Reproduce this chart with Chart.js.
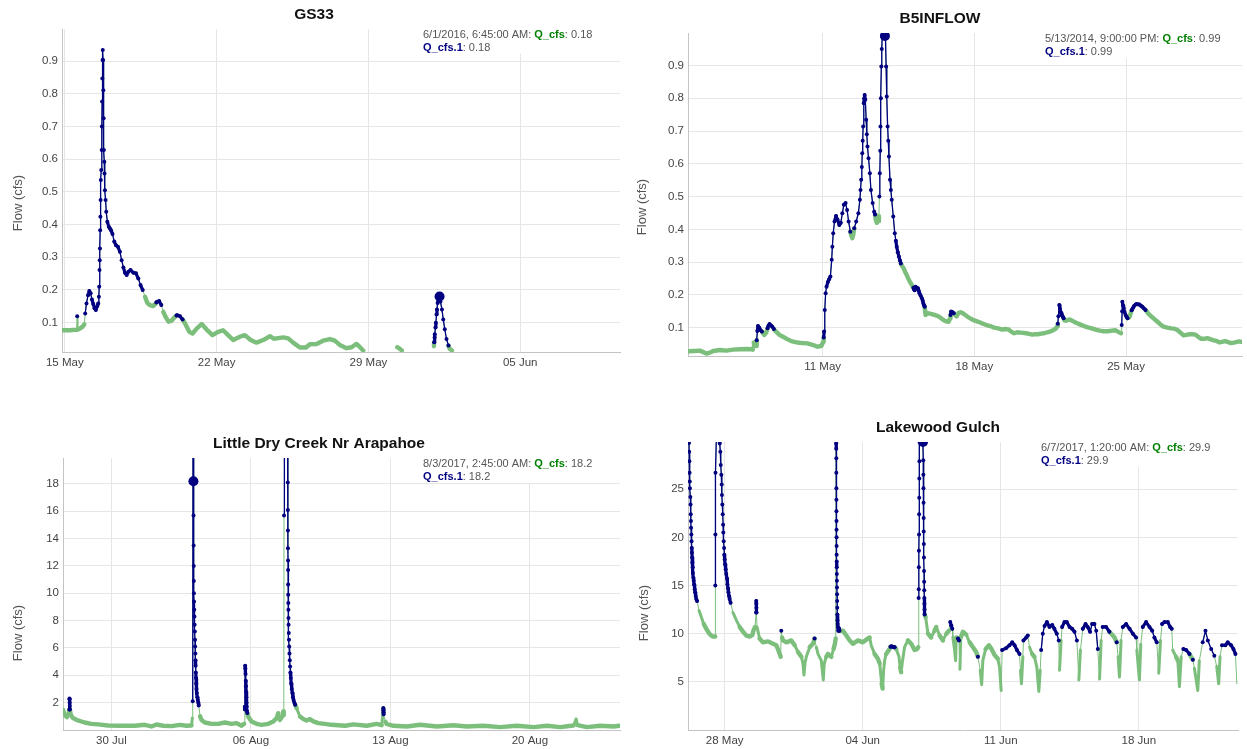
<!DOCTYPE html>
<html>
<head>
<meta charset="utf-8">
<title>Flow (cfs) – four gauges</title>
<script src="https://cdn.jsdelivr.net/npm/chart.js@4.4.1/dist/chart.umd.min.js"></script>
<style>
  html, body { margin: 0; padding: 0; background: #fff; }
  #wrap { position: relative; width: 1247px; height: 749px; overflow: hidden; background: #fff; }
  .panel { position: absolute; }
  .panel canvas { display: block; }
</style>
</head>
<body>
<div id="wrap">
  <div class="panel" style="left:0;top:0;width:625px;height:375px"><canvas id="gs33" width="625" height="375"></canvas></div>
  <div class="panel" style="left:625px;top:0;width:622px;height:375px"><canvas id="b5" width="622" height="375"></canvas></div>
  <div class="panel" style="left:0;top:375px;width:625px;height:374px"><canvas id="ldc" width="625" height="374"></canvas></div>
  <div class="panel" style="left:625px;top:375px;width:622px;height:374px"><canvas id="lg" width="622" height="374"></canvas></div>
</div>
<script>
// ---------------------------------------------------------------------------
// Data. x = day counted from the start of the first month shown
// (e.g. 15.5 = 15 May 12:00, 32 = 1 Jun). Flow in cfs.
// *Flow   : Q_cfs, the full record
// *Event  : Q_cfs.1, the flagged event portions (null breaks a run)
// ---------------------------------------------------------------------------

// GS33 (May–Jun 2016)
const gs33Flow = [
  [14.85,0.077],[15.05,0.077],[15.24,0.077],[15.40,0.078],[15.54,0.078],[15.60,0.079],[15.70,0.082],[15.82,0.088],[15.90,0.095],
  [18.70,0.179],[18.80,0.161],[18.92,0.154],[19.08,0.151],[19.20,0.159],
  [19.54,0.133],[19.66,0.116],[19.78,0.103],[19.92,0.106],[20.08,0.118],
  [20.58,0.093],[20.74,0.072],[20.89,0.067],[21.08,0.082],[21.31,0.096],[21.54,0.079],[21.81,0.062],[22.07,0.072],[22.30,0.077],
  [22.53,0.062],[22.77,0.047],[23.07,0.057],[23.30,0.062],[23.57,0.047],[23.84,0.039],[24.15,0.047],[24.46,0.059],[24.64,0.051],
  [24.84,0.053],[25.07,0.055],[25.30,0.052],[25.53,0.039],[25.84,0.024],[26.12,0.024],[26.30,0.034],[26.61,0.035],[26.91,0.045],
  [27.22,0.050],[27.45,0.045],[27.68,0.032],[27.99,0.022],[28.22,0.025],[28.45,0.035],[28.61,0.025],[28.76,0.015],
  [29.50,null],
  [30.33,0.025],[30.45,0.020],[30.54,0.015],
  [31.30,null],
  [32.02,0.028],[32.75,0.020],[32.85,0.015]
];
const gs33Event = [
  [15.57,0.12],[15.75,null],
  [15.94,0.128],[16.00,0.159],[16.07,0.184],[16.13,0.197],[16.19,0.190],[16.25,0.171],[16.31,0.157],[16.37,0.144],[16.43,0.139],
  [16.50,0.151],[16.54,0.159],[16.57,0.179],[16.585,0.21],[16.60,0.261],[16.61,0.291],[16.62,0.327],[16.63,0.383],[16.64,0.424],
  [16.65,0.475],[16.66,0.536],[16.68,0.567],[16.70,0.628],[16.71,0.700],[16.72,0.776],[16.73,0.847],[16.74,0.903],[16.75,0.934],
  [16.765,0.903],[16.775,0.811],[16.79,0.725],[16.80,0.628],[16.82,0.592],[16.83,0.556],[16.85,0.505],[16.88,0.475],[16.91,0.439],
  [16.96,0.409],[17.03,0.393],[17.08,0.388],[17.13,0.383],[17.20,0.371],[17.28,0.348],[17.36,0.337],[17.45,0.332],[17.54,0.317],
  [17.62,0.291],[17.70,0.269],[17.77,0.253],[17.85,0.246],[17.93,0.256],[18.03,0.261],[18.16,0.253],[18.28,0.251],[18.39,0.235],
  [18.49,0.215],[18.59,0.200],[18.90,null],
  [19.22,0.162],[19.26,0.164],[19.35,0.166],[19.45,0.154],[19.80,null],
  [20.15,0.122],[20.19,0.123],[20.31,0.120],[20.43,0.110],[25.00,null],
  [32.03,0.040],[32.05,0.055],[32.06,0.065],[32.09,0.085],[32.11,0.100],[32.14,0.125],[32.16,0.140],[32.19,0.160],[32.22,0.175],
  [32.25,0.185],[32.28,0.180],[32.32,0.165],[32.39,0.140],[32.45,0.110],[32.52,0.080],[32.60,0.050],[32.69,0.030]
];
const gs33TickDays = [15, 22, 29, 36];
const gs33TickLabels = ['15 May', '22 May', '29 May', '05 Jun'];
const gs33FlowTicks = [0.1, 0.2, 0.3, 0.4, 0.5, 0.6, 0.7, 0.8, 0.9];
const gs33FlowLabels = ['0.1', '0.2', '0.3', '0.4', '0.5', '0.6', '0.7', '0.8', '0.9'];
const gs33Selected = { time: '6/1/2016, 6:45:00 AM', day: 32.28, flow: 0.18 };

// B5INFLOW (May 2014)
const b5Flow = [
  [4.76,0.028],[5.03,0.029],[5.34,0.030],[5.64,0.021],[5.80,0.024],[5.95,0.029],[6.26,0.032],[6.56,0.030],[6.87,0.033],[7.18,0.034],
  [7.48,0.035],[7.73,0.034],[7.78,0.033],[7.82,0.055],[7.88,0.045],[7.93,0.044],
  [8.31,0.078],[8.40,0.085],
  [8.82,0.090],[9.01,0.078],[9.15,0.073],[9.29,0.068],[9.56,0.059],[9.75,0.056],[9.93,0.054],[10.10,0.053],[10.30,0.052],
  [10.57,0.047],[10.76,0.042],[10.94,0.044],[11.03,0.057],
  [12.33,0.380],[12.37,0.373],[12.42,0.385],
  [13.45,0.430],[13.50,0.420],[13.56,0.425],[13.60,0.440],
  [14.68,0.287],[14.74,0.281],[14.81,0.270],[14.88,0.261],[14.95,0.250],[15.03,0.240],[15.10,0.232],[15.16,0.225],
  [15.73,0.150],[15.75,0.139],[15.82,0.142],[15.90,0.144],[16.04,0.141],[16.17,0.139],[16.36,0.134],[16.50,0.127],[16.63,0.121],
  [16.81,0.118],[16.88,0.128],
  [17.12,0.138],[17.18,0.134],[17.27,0.145],[17.36,0.147],[17.45,0.145],[17.55,0.140],[17.68,0.134],[17.82,0.128],[18.00,0.122],
  [18.19,0.118],[18.37,0.113],[18.56,0.108],[18.74,0.105],[18.92,0.100],[19.10,0.098],[19.29,0.094],[19.43,0.096],[19.57,0.095],
  [19.70,0.088],[19.84,0.083],[19.98,0.086],[20.12,0.085],[20.25,0.084],[20.39,0.083],[20.53,0.081],[20.67,0.079],[20.80,0.080],
  [20.94,0.080],[21.08,0.082],[21.22,0.083],[21.36,0.086],[21.49,0.088],[21.63,0.092],[21.77,0.098],[21.82,0.104],
  [22.16,0.122],[22.23,0.121],[22.32,0.124],[22.41,0.125],[22.55,0.120],[22.69,0.115],[22.87,0.110],[23.06,0.105],[23.24,0.101],
  [23.42,0.098],[23.60,0.094],[23.79,0.091],[23.97,0.089],[24.16,0.089],[24.34,0.091],[24.52,0.092],[24.62,0.088],[24.71,0.085],
  [24.77,0.083],
  [25.12,0.131],[25.17,0.134],[25.22,0.145],
  [25.97,0.148],[26.04,0.142],[26.17,0.134],[26.31,0.126],[26.45,0.118],[26.59,0.110],[26.73,0.103],[26.91,0.100],[27.09,0.098],
  [27.23,0.097],[27.37,0.093],[27.51,0.085],[27.65,0.077],[27.79,0.078],[27.92,0.080],[28.06,0.080],[28.20,0.079],[28.33,0.072],
  [28.47,0.066],[28.61,0.066],[28.75,0.068],[28.88,0.065],[29.02,0.062],[29.16,0.060],[29.30,0.055],[29.43,0.057],[29.57,0.059],
  [29.71,0.056],[29.85,0.053],[30.03,0.055],[30.21,0.058],[30.40,0.056]
];
const b5Event = [
  [7.96,0.062],[7.99,0.090],[8.02,0.105],[8.08,0.100],[8.13,0.093],[8.20,0.088],[8.25,null],
  [8.46,0.098],[8.50,0.106],[8.55,0.111],[8.62,0.107],[8.68,0.103],[8.75,0.096],[8.80,null],
  [11.05,0.070],[11.07,0.088],[11.10,0.154],[11.14,0.205],[11.18,0.225],[11.25,0.240],[11.30,0.248],[11.36,0.256],[11.42,0.307],
  [11.45,0.347],[11.49,0.388],[11.55,0.424],[11.62,0.441],[11.69,0.429],[11.77,0.413],[11.84,0.420],[11.91,0.449],[11.98,0.475],
  [12.06,0.480],[12.13,0.459],[12.20,0.424],[12.28,0.393],[12.30,null],
  [12.46,0.403],[12.55,0.424],[12.65,0.449],[12.72,0.490],[12.75,0.520],[12.78,0.551],[12.81,0.590],[12.83,0.632],[12.85,0.670],
  [12.87,0.714],[12.90,0.785],[12.92,0.800],[12.94,0.810],[12.97,0.795],[13.01,0.734],[13.04,0.690],[13.07,0.653],[13.12,0.617],
  [13.18,0.571],[13.23,0.520],[13.31,0.480],[13.38,0.454],[13.42,0.445],[13.43,null],
  [13.62,0.500],[13.64,0.571],[13.66,0.640],[13.67,0.714],[13.69,0.800],[13.71,0.897],[13.73,0.950],[13.75,0.990],[13.79,0.990],
  [13.82,0.990],[13.85,0.990],[13.875,0.990],[13.90,0.990],[13.93,0.897],[13.96,0.805],[14.00,0.714],[14.03,0.670],[14.06,0.622],
  [14.11,0.551],[14.15,0.520],[14.19,0.490],[14.26,0.439],[14.33,0.388],[14.38,0.365],[14.42,0.347],[14.47,0.330],[14.52,0.317],
  [14.57,0.305],[14.61,0.296],[14.65,null],
  [15.19,0.222],[15.22,0.217],[15.25,0.214],[15.29,0.225],[15.34,0.222],[15.40,0.220],[15.44,0.212],[15.47,0.205],[15.52,0.198],
  [15.58,0.190],[15.62,0.182],[15.65,0.174],[15.68,0.168],[15.71,0.164],[15.72,null],
  [16.90,0.139],[16.93,0.149],[16.98,0.148],[17.05,0.144],[17.10,null],
  [21.85,0.112],[21.88,0.135],[21.92,0.169],[21.95,0.158],[21.97,0.149],[22.00,0.145],[22.04,0.139],[22.08,0.134],[22.12,0.129],[22.14,null],
  [24.80,0.108],[24.82,0.150],[24.83,0.179],[24.86,0.168],[24.89,0.159],[24.93,0.148],[24.98,0.139],[25.02,0.133],[25.07,0.129],[25.10,null],
  [25.26,0.153],[25.31,0.159],[25.37,0.166],[25.44,0.171],[25.50,0.172],[25.56,0.171],[25.62,0.171],[25.69,0.167],[25.75,0.164],
  [25.82,0.159],[25.90,0.154]
];
const b5TickDays = [11, 18, 25];
const b5TickLabels = ['11 May', '18 May', '25 May'];
const b5FlowTicks = [0.1, 0.2, 0.3, 0.4, 0.5, 0.6, 0.7, 0.8, 0.9];
const b5FlowLabels = ['0.1', '0.2', '0.3', '0.4', '0.5', '0.6', '0.7', '0.8', '0.9'];
const b5Selected = { time: '5/13/2014, 9:00:00 PM', day: 13.875, flow: 0.99 };

// Little Dry Creek Nr Arapahoe (Jul–Aug 2017; 1 Aug = 32)
const ldcFlow = [
  [27.57,1.48],[27.65,1.11],[27.77,0.94],[27.86,1.23],[27.96,1.11],[28.07,0.87],[28.32,0.70],[28.66,0.55],[28.99,0.45],[29.33,0.41],
  [29.83,0.33],[30.50,0.31],[31.17,0.31],[31.67,0.38],[32.01,0.26],[32.26,0.40],[32.60,0.31],[33.01,0.28],[33.43,0.38],[33.77,0.31],
  [34.02,0.33],[34.06,0.87],
  [34.45,1.00],[34.52,0.74],[34.69,0.55],[35.02,0.45],[35.36,0.45],[35.69,0.55],[36.03,0.45],[36.28,0.50],[36.53,0.31],[36.66,0.45],
  [36.86,0.99],[37.03,0.62],[37.28,0.45],[37.53,0.38],[37.87,0.45],[38.12,0.62],[38.29,0.87],[38.37,1.23],[38.45,0.74],[38.57,0.99],
  [38.62,1.36],[38.65,1.10],
  [39.29,1.60],[39.46,0.99],[39.63,0.80],[39.79,0.70],[39.96,0.80],[40.13,0.63],[40.38,0.50],[40.71,0.45],[41.05,0.38],[41.38,0.35],
  [41.72,0.31],[42.14,0.41],[42.81,0.31],[43.31,0.45],[43.56,0.35],[43.63,1.23],
  [43.75,0.60],[43.81,0.45],[44.15,0.31],[44.82,0.26],[45.49,0.38],[46.33,0.26],[47.16,0.35],[47.83,0.26],[48.67,0.31],[49.51,0.21],
  [50.34,0.31],[51.18,0.21],[51.85,0.31],[52.52,0.21],[53.19,0.33],[53.32,0.82],[53.39,0.35],[53.86,0.21],[54.53,0.31],[55.20,0.26],
  [55.50,0.31]
];
const ldcEvent = [
  [27.89,1.5],[27.895,2.3],[27.90,2.25],[27.905,2.0],[27.91,1.75],[27.915,1.5],[27.93,null],
  [34.08,2.1],[34.095,24],[34.115,18.2],[34.12,15.7],[34.125,13.5],[34.13,12.0],[34.135,10.9],[34.14,10.0],[34.145,9.4],
  [34.155,8.8],[34.165,8.3],[34.175,7.7],[34.185,7.2],[34.195,6.6],[34.20,6.1],[34.21,5.6],[34.22,5.1],[34.225,4.7],[34.235,4.2],
  [34.245,3.8],[34.255,3.4],[34.27,3.0],[34.29,2.7],[34.31,2.4],[34.335,2.2],[34.36,2.0],[34.38,1.8],[34.40,null],
  [36.69,1.7],[36.70,1.5],[36.71,4.7],[36.72,4.5],[36.73,4.1],[36.74,3.6],[36.75,3.2],[36.76,2.8],[36.77,2.4],[36.78,2.0],
  [36.79,1.7],[36.80,1.4],[36.82,1.25],[36.84,null],
  [38.66,15.7],[38.68,26],[38.75,29],[38.83,25],[38.85,18.1],[38.853,16.1],[38.856,14.6],[38.859,13.3],[38.862,12.4],[38.865,11.7],
  [38.868,10.65],[38.871,9.9],[38.875,9.3],[38.88,8.8],[38.885,8.2],[38.89,7.7],[38.90,7.1],[38.91,6.6],[38.92,6.1],[38.935,5.6],
  [38.95,5.1],[38.965,4.65],[38.98,4.2],[39.00,3.8],[39.02,3.4],[39.05,3.0],[39.08,2.7],[39.11,2.4],[39.14,2.2],[39.18,2.0],
  [39.22,1.85],[39.25,null],
  [43.645,1.6],[43.65,1.45],[43.655,1.3],[43.66,1.15]
];
const ldcTickDays = [30, 37, 44, 51];
const ldcTickLabels = ['30 Jul', '06 Aug', '13 Aug', '20 Aug'];
const ldcFlowTicks = [2, 4, 6, 8, 10, 12, 14, 16, 18];
const ldcFlowLabels = ['2', '4', '6', '8', '10', '12', '14', '16', '18'];
const ldcSelected = { time: '8/3/2017, 2:45:00 AM', day: 34.115, flow: 18.2 };

// Lakewood Gulch (May–Jun 2017; 1 Jun = 32)
const lgFlow = [
  [26.70,12.4],[26.82,11.7],[26.94,11.0],[27.07,10.5],[27.21,10.05],[27.32,9.8],[27.41,9.7],[27.49,9.7],[27.52,9.7],
  [28.42,12.2],[28.59,11.4],[28.76,10.7],[28.93,10.2],[29.10,9.8],[29.27,9.7],[29.40,9.85],[29.47,10.4],[29.54,10.7],
  [29.64,10.7],[29.77,9.5],[29.94,9.1],[30.20,9.2],[30.45,8.95],[30.62,8.8],[30.70,8.4],[30.79,7.9],[30.84,7.6],
  [30.91,9.6],[30.96,9.3],[31.13,9.1],[31.38,9.3],[31.55,8.8],[31.72,8.1],[31.89,7.6],[31.97,6.9],[32.02,5.7],[32.07,6.9],
  [32.14,7.6],[32.31,8.6],[32.48,8.95],
  [32.65,8.6],[32.73,7.9],[32.90,7.2],[32.95,6.2],[33.00,5.2],[33.05,6.9],[33.15,7.6],[33.24,7.9],[33.41,7.6],[33.52,8.4],
  [33.59,8.95],[33.63,9.5],
  [34.00,10.3],[34.17,9.8],[34.34,9.3],[34.50,8.95],[34.76,9.3],[35.01,9.1],[35.26,9.5],[35.35,9.6],[35.43,8.8],[35.60,7.9],
  [35.77,7.4],[35.86,6.9],[35.91,5.9],[35.96,4.8],[36.01,4.3],[36.06,6.2],[36.11,7.2],[36.19,7.9],[36.36,8.4],
  [36.70,8.4],[36.84,7.6],[36.90,6.5],[36.95,6.0],[37.00,6.9],[37.12,8.6],[37.29,9.3],[37.46,8.95],[37.63,8.3],[37.75,8.4],[37.82,8.6],
  [38.19,11.7],[38.31,10.0],[38.47,9.6],[38.64,10.3],[38.73,10.7],[38.90,9.8],[39.07,9.3],[39.24,10.0],[39.37,10.3],
  [39.57,9.6],[39.66,8.3],[39.71,7.2],[39.74,9.6],
  [39.93,6.3],[39.97,9.6],[40.08,10.2],[40.25,9.9],[40.42,9.1],[40.59,8.6],[40.75,8.1],
  [40.96,6.2],[41.03,4.7],[41.09,7.2],[41.23,8.4],[41.40,8.8],[41.53,8.4],[41.68,7.8],[41.85,7.4],[41.94,6.5],[42.02,4.1],
  [43.00,6.2],[43.05,4.8],[43.12,7.6],
  [43.46,8.6],[43.59,7.9],[43.71,7.6],[43.83,6.5],[43.93,4.0],[44.00,6.2],
  [44.98,6.2],[45.06,9.3],
  [45.96,5.2],[46.04,8.3],
  [47.01,5.3],[47.09,9.3],
  [47.60,10.0],[47.77,9.6],
  [47.95,7.6],[48.02,5.5],[48.10,9.3],
  [48.90,8.3],[49.03,5.2],[49.10,8.9],
  [50.01,5.9],[50.10,9.3],
  [50.72,8.3],[50.89,7.6],[50.98,7.2],[51.06,4.5],[51.15,7.6],
  [51.65,7.6],
  [51.82,6.4],[51.99,4.1],[52.07,7.2],
  [52.95,6.6],[53.05,4.8],[53.12,7.6],
  [53.97,4.8]
];
const lgEvent = [
  [26.19,29.8],[26.20,28.9],[26.21,27.9],[26.22,26.7],[26.23,25.8],[26.24,25.1],[26.26,24.2],[26.27,23.4],[26.28,22.4],[26.29,21.7],
  [26.295,21.0],[26.31,20.3],[26.32,19.6],[26.33,18.9],[26.34,18.4],[26.35,17.9],[26.36,17.4],[26.38,16.9],[26.39,16.3],[26.41,15.8],
  [26.43,15.5],[26.45,15.1],[26.48,14.6],[26.50,14.3],[26.53,13.9],[26.56,13.6],[26.60,13.4],[26.65,null],
  [27.525,15.0],[27.53,20.3],[27.535,26.7],[27.60,32],[27.70,32],[27.75,29.75],[27.78,28.9],[27.80,27.5],[27.83,26.5],[27.85,25.5],
  [27.86,24.4],[27.88,23.4],[27.90,22.4],[27.92,21.3],[27.93,20.5],[27.95,19.6],[27.97,18.9],[27.98,18.2],[28.00,17.7],[28.02,17.2],
  [28.05,16.7],[28.08,16.2],[28.12,15.7],[28.14,15.1],[28.17,14.7],[28.19,14.3],[28.22,13.9],[28.25,13.6],[28.30,13.2],[28.35,null],
  [29.595,12.2],[29.60,13.4],[29.605,13.1],[29.61,12.7],[29.615,12.2],[29.62,null],
  [30.87,10.3],[30.88,null],
  [32.56,9.5],[32.57,null],
  [33.645,33],[33.655,29.75],[33.658,29.2],[33.66,28.2],[33.662,26.7],[33.664,25.1],[33.666,23.9],[33.668,22.7],[33.67,21.7],
  [33.672,20.8],[33.674,20.0],[33.676,19.1],[33.678,18.2],[33.68,17.5],[33.683,16.9],[33.686,16.2],[33.69,15.5],[33.694,14.8],
  [33.698,14.1],[33.702,13.4],[33.707,12.7],[33.712,12.0],[33.72,11.4],[33.73,11.0],[33.745,10.7],[33.76,10.3],[33.78,10.6],
  [33.80,10.5],[33.82,10.3],[33.90,null],
  [36.41,8.65],[36.46,8.7],[36.52,8.65],[36.57,8.6],[36.62,8.6],[36.65,null],
  [37.835,13.7],[37.84,14.6],[37.845,16.9],[37.85,18.6],[37.855,20.3],[37.86,22.4],[37.865,24.1],[37.87,26.1],[37.875,27.9],
  [37.88,29.9],[37.91,29.9],[37.94,29.9],[37.97,29.9],[38.00,29.9],[38.03,29.9],[38.056,29.9],[38.07,28.0],[38.075,26.5],
  [38.08,25.1],[38.085,23.6],[38.09,22.0],[38.095,20.6],[38.10,19.3],[38.105,17.9],[38.11,16.5],[38.115,15.4],[38.12,14.5],
  [38.125,13.7],[38.13,13.1],[38.135,12.5],[38.14,12.0],[38.16,null],
  [39.44,11.2],[39.49,10.85],[39.54,10.5],[39.55,null],
  [39.83,9.5],[39.88,9.3],[39.90,null],
  [40.84,7.6],[40.85,null],
  [42.07,8.3],[42.27,8.5],[42.44,8.8],[42.58,9.1],[42.70,8.8],[42.82,8.3],[42.95,7.9],[42.97,null],
  [43.15,9.3],[43.29,9.6],[43.37,9.8],[43.40,null],
  [44.05,8.3],[44.13,10.0],[44.22,10.8],[44.34,11.2],[44.47,10.7],[44.61,10.9],[44.72,10.5],[44.84,10.0],[44.94,9.3],[44.96,null],
  [45.11,10.7],[45.23,11.2],[45.35,11.2],[45.49,10.7],[45.62,10.5],[45.74,10.2],[45.86,9.3],[45.90,null],
  [46.16,10.5],[46.30,11.0],[46.41,10.7],[46.53,10.2],[46.63,11.0],[46.75,11.0],[46.84,10.3],[46.92,8.4],[46.95,null],
  [47.17,10.7],[47.34,10.7],[47.51,10.2],[47.55,null],
  [47.88,9.1],[47.90,null],
  [48.19,10.7],[48.36,11.0],[48.53,10.5],[48.70,10.0],[48.86,9.6],[48.88,null],
  [49.20,10.7],[49.37,11.2],[49.54,10.7],[49.68,10.3],[49.79,9.6],[49.91,9.1],[49.95,null],
  [50.18,11.0],[50.30,11.2],[50.47,11.2],[50.59,10.7],[50.67,10.5],[50.70,null],
  [51.26,8.4],[51.40,8.3],[51.57,7.9],[51.60,null],
  [51.74,7.3],[51.76,null],
  [52.24,9.1],[52.38,10.3],[52.50,9.3],[52.67,8.4],[52.83,7.7],[52.90,null],
  [53.22,8.8],[53.39,8.8],[53.51,9.1],[53.68,8.8],[53.80,8.4],[53.90,7.9]
];
const lgTickDays = [28, 35, 42, 49];
const lgTickLabels = ['28 May', '04 Jun', '11 Jun', '18 Jun'];
const lgFlowTicks = [5, 10, 15, 20, 25];
const lgFlowLabels = ['5', '10', '15', '20', '25'];
const lgSelected = { time: '6/7/2017, 1:20:00 AM', day: 38.056, flow: 29.9 };

// ---------------------------------------------------------------------------
// Styling and drawing
// ---------------------------------------------------------------------------
const GREEN = '#7cbf7c';
const GREEN_TEXT = '#008000';
const NAVY = '#000080';
const FONT = '"Liberation Sans", Arial, Helvetica, sans-serif';
const Y_AXIS_W = 50;
const X_AXIS_H = 16;

// Q_cfs holds every reading, so the flagged readings are folded back in.
function fullRecord(base, events) {
  const pts = base.map(([x, y]) => ({ x, y, ev: false }));
  events.forEach(([x, y]) => { if (y !== null) pts.push({ x, y, ev: true }); });
  pts.sort((a, b) => a.x - b.x);
  return pts;
}

// A segment that climbs or drops sharply is drawn as a thin stroke; slow
// runs are drawn wide so the densely sampled trace reads as a band.
function isSteep(c) {
  const dx = Math.abs(c.p1.x - c.p0.x);
  const dy = Math.abs(c.p1.y - c.p0.y);
  return dy > 6 && dy > 2 * dx;
}

// Title, rotated axis title and the selection readout box.
const panelDecor = {
  id: 'panelDecor',
  afterDraw(chart, args, o) {
    const { ctx, chartArea: a } = chart;
    ctx.save();
    ctx.textAlign = 'center';
    ctx.textBaseline = 'middle';
    ctx.font = 'bold 15.5px ' + FONT;
    ctx.fillStyle = '#111';
    ctx.fillText(o.title, o.titleX, o.titleY);

    ctx.save();
    ctx.translate(o.yTitleX, o.yTitleY);
    ctx.rotate(-Math.PI / 2);
    ctx.font = '13px ' + FONT;
    ctx.fillStyle = '#555';
    ctx.fillText('Flow (cfs)', 0, 0);
    ctx.restore();

    const x0 = a.right - 197;
    const y0 = a.top;
    ctx.fillStyle = '#fff';
    ctx.fillRect(x0 - 3, y0, a.right - x0 + 3, 25);
    ctx.textAlign = 'left';
    let x = x0;
    const put = (text, bold, color, y) => {
      ctx.font = (bold ? 'bold ' : '') + '11px ' + FONT;
      ctx.fillStyle = color;
      ctx.fillText(text, x, y);
      x += ctx.measureText(text).width;
    };
    const sel = o.selected;
    put(sel.time + ': ', false, '#555', y0 + 5.5);
    put(chart.data.datasets[2].label, true, GREEN_TEXT, y0 + 5.5);
    put(': ' + sel.flow, false, '#555', y0 + 5.5);
    x = x0;
    put(chart.data.datasets[1].label, true, NAVY, y0 + 18.5);
    put(': ' + sel.flow, false, '#555', y0 + 18.5);
    ctx.restore();
  }
};

function makePanel(canvasId, p) {
  const canvas = document.getElementById(canvasId);
  const full = fullRecord(p.flow, p.events);
  const area = p.area;
  const padding = {
    left: area.left - Y_AXIS_W,
    top: area.top,
    right: canvas.width - area.right,
    bottom: canvas.height - area.bottom - X_AXIS_H
  };
  return new Chart(canvas, {
    type: 'line',
    data: {
      datasets: [
        {
          label: 'selected',
          data: [{ x: p.selected.day, y: p.selected.flow }],
          showLine: false,
          pointRadius: 5,
          pointBorderWidth: 0,
          pointBackgroundColor: NAVY,
          clip: 0,
          order: 0
        },
        {
          label: 'Q_cfs.1',
          data: p.events.map(([x, y]) => ({ x, y })),
          borderColor: NAVY,
          borderWidth: 1.4,
          borderCapStyle: 'round',
          borderJoinStyle: 'round',
          pointRadius: 2,
          pointBorderWidth: 0,
          pointBackgroundColor: NAVY,
          tension: 0,
          spanGaps: false,
          clip: 0,
          order: 1,
          segment: {
            borderWidth: c => isSteep(c) ? 1.3 : 3.2
          }
        },
        {
          label: 'Q_cfs',
          data: full,
          borderColor: GREEN,
          borderWidth: 4.4,
          borderCapStyle: 'round',
          borderJoinStyle: 'round',
          pointRadius: 0,
          tension: 0,
          spanGaps: false,
          clip: 0,
          order: 2,
          segment: {
            borderWidth: c => {
              const a = full[c.p0DataIndex], b = full[c.p1DataIndex];
              const steep = isSteep(c);
              if (a.ev && b.ev) return 1;
              if ((a.ev || b.ev) && steep) return 1;
              return steep ? 3 : 4.4;
            }
          }
        }
      ]
    },
    options: {
      responsive: false,
      animation: false,
      events: [],
      layout: { padding },
      plugins: {
        legend: { display: false },
        tooltip: { enabled: false },
        title: { display: false },
        panelDecor: p.decor
      },
      scales: {
        x: {
          type: 'linear',
          min: p.xRange[0],
          max: p.xRange[1],
          afterFit: s => { s.height = X_AXIS_H; },
          afterBuildTicks: s => { s.ticks = p.xTicks.map(v => ({ value: v })); },
          ticks: {
            autoSkip: false,
            maxRotation: 0,
            padding: 4,
            color: '#444',
            font: { family: FONT, size: 11.5 },
            callback: (v, i) => p.xLabels[i]
          },
          grid: { color: '#e6e6e6', lineWidth: 1, drawTicks: false },
          border: { display: true, color: '#c4c4c4', width: 1 }
        },
        y: {
          type: 'linear',
          min: p.yRange[0],
          max: p.yRange[1],
          afterFit: s => { s.width = Y_AXIS_W; },
          afterBuildTicks: s => { s.ticks = p.yTicks.map(v => ({ value: v })); },
          ticks: {
            padding: 4,
            color: '#444',
            font: { family: FONT, size: 11.5 },
            callback: (v, i) => p.yLabels[i]
          },
          grid: { color: '#e6e6e6', lineWidth: 1, drawTicks: false },
          border: { display: true, color: '#c4c4c4', width: 1 }
        }
      }
    },
    plugins: [panelDecor]
  });
}

makePanel('gs33', {
  flow: gs33Flow, events: gs33Event, selected: gs33Selected,
  xTicks: gs33TickDays, xLabels: gs33TickLabels, yTicks: gs33FlowTicks, yLabels: gs33FlowLabels,
  xRange: [14.87, 40.6], yRange: [0.0104, 0.998],
  area: { left: 62, top: 29, right: 620, bottom: 352 },
  decor: { title: 'GS33', titleX: 314, titleY: 15, yTitleX: 18, yTitleY: 203, selected: gs33Selected }
});
makePanel('b5', {
  flow: b5Flow, events: b5Event, selected: b5Selected,
  xTicks: b5TickDays, xLabels: b5TickLabels, yTicks: b5FlowTicks, yLabels: b5FlowLabels,
  xRange: [4.79, 30.35], yRange: [0.0136, 0.999],
  area: { left: 63, top: 33, right: 620, bottom: 356 },
  decor: { title: 'B5INFLOW', titleX: 315, titleY: 19, yTitleX: 17, yTitleY: 207, selected: b5Selected }
});
makePanel('ldc', {
  flow: ldcFlow, events: ldcEvent, selected: ldcSelected,
  xTicks: ldcTickDays, xLabels: ldcTickLabels, yTicks: ldcFlowTicks, yLabels: ldcFlowLabels,
  xRange: [27.57, 55.52], yRange: [0, 19.9],
  area: { left: 63, top: 83, right: 620, bottom: 355 },
  decor: { title: 'Little Dry Creek Nr Arapahoe', titleX: 319, titleY: 69, yTitleX: 18, yTitleY: 258, selected: ldcSelected }
});
makePanel('lg', {
  flow: lgFlow, events: lgEvent, selected: lgSelected,
  xTicks: lgTickDays, xLabels: lgTickLabels, yTicks: lgFlowTicks, yLabels: lgFlowLabels,
  xRange: [26.14, 54.03], yRange: [0, 29.9],
  area: { left: 63, top: 67, right: 613, bottom: 355 },
  decor: { title: 'Lakewood Gulch', titleX: 313, titleY: 53, yTitleX: 19, yTitleY: 238, selected: lgSelected }
});
</script>
</body>
</html>
